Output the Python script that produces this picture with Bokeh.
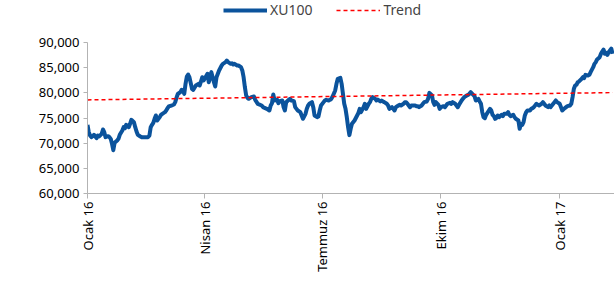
import numpy as np
import pandas as pd
from bokeh.plotting import figure
from bokeh.models import (Legend, LegendItem, FixedTicker, NumeralTickFormatter,
                          Range1d, ColumnDataSource)
from bokeh.embed import file_html
from bokeh.resources import INLINE

# ---- data ----
start_date = "2016-01-01"
days = [0, 1, 2, 3, 4, 5, 7, 8, 9, 11, 12, 13, 14, 16, 17, 18, 19, 20, 21, 23, 24, 25, 27, 28, 29, 30,
        32, 33, 34, 36, 37, 38, 39, 41, 42, 44, 47, 48, 49, 50, 51, 52, 53, 54, 56, 57, 58, 60, 61, 62,
        63, 65, 67, 68, 69, 70, 72, 73, 74, 75, 76, 77, 78, 79, 81, 82, 84, 86, 87, 89, 90, 93, 94, 95,
        96, 98, 99, 100, 102, 104, 105, 107, 108, 109, 111, 112, 113, 114, 116, 117, 119, 120, 121, 122,
        123, 124, 125, 127, 129, 130, 132, 135, 136, 139, 141, 142, 143, 144, 145, 147, 148, 149, 151,
        152, 153, 154, 156, 157, 158, 160, 161, 162, 163, 165, 166, 167, 169, 170, 171, 172, 174, 175,
        176, 178, 179, 180, 181, 183, 184, 185, 187, 188, 189, 190, 192, 193, 194, 196, 197, 198, 199,
        200, 201, 202, 203, 204, 205, 207, 209, 210, 211, 212, 214, 215, 216, 218, 219, 220, 221, 223,
        224, 225, 227, 228, 229, 230, 232, 233, 234, 236, 237, 238, 239, 241, 242, 243, 245, 246, 247,
        248, 250, 251, 252, 254, 255, 256, 257, 259, 260, 261, 263, 264, 265, 267, 268, 269, 270, 272,
        273, 274, 276, 277, 278, 279, 281, 282, 283, 285, 286, 287, 288, 290, 291, 292, 294, 295, 296,
        297, 299, 300, 301, 303, 304, 305, 306, 307, 308, 309, 310, 312, 313, 314, 315, 316, 317, 318,
        319, 321, 322, 323, 325, 326, 327, 328, 330, 331, 332, 334, 335, 336, 337, 338, 339, 340, 341,
        343, 344, 345, 346, 348, 349, 350, 352, 353, 354, 355, 357, 358, 359, 361, 362, 363, 364, 366,
        367, 368, 370, 371, 372, 374, 375, 376, 377, 378, 379, 380, 381, 383, 384, 385, 386, 388, 389,
        390, 392, 393, 394, 395, 397, 398, 399, 400, 401, 402, 403, 404, 406, 407]
xu100 = [73640, 72190, 71530, 71200, 71390, 71660, 71000, 71530, 71330, 71860, 72720, 72190, 71200,
         71390, 71200, 70860, 69870, 68600, 70070, 70530, 70860, 71660, 72520, 73180, 72980, 73640,
         73180, 73840, 74640, 74170, 73180, 72320, 71660, 71330, 71200, 71200, 71200, 71530, 73180,
         73640, 74040, 74840, 75500, 74510, 75170, 75630, 75830, 76160, 76490, 76950, 77290, 77480,
         77680, 78150, 79040, 79770, 80140, 80600, 80470, 79800, 81790, 83250, 83640, 83110, 80800,
         80600, 81460, 81790, 81460, 83110, 82450, 83780, 82120, 83110, 84110, 82120, 81260, 83110,
         84440, 85430, 85760, 86090, 86420, 86090, 85760, 85890, 85630, 85760, 85430, 85430, 85100,
         84440, 83110, 81130, 79470, 79010, 78810, 79140, 79270, 78610, 77820, 77490, 77160, 76830,
         76490, 77490, 77950, 79670, 78480, 78610, 77950, 78350, 78480, 77160, 76490, 78150, 78610,
         78810, 78480, 78350, 77160, 76820, 76490, 76160, 75500, 74840, 75830, 76820, 77490, 77820,
         78150, 77160, 75500, 75170, 75300, 76490, 77490, 78150, 78480, 78610, 78480, 78610, 78810,
         79270, 80470, 81790, 82780, 82980, 81790, 79800, 77820, 76820, 75170, 73180, 71600, 72850,
         73850, 74510, 75500, 76000, 76820, 76160, 77150, 77820, 76820, 77820, 78150, 78810, 79140,
         78810, 78480, 78680, 78280, 78480, 78280, 78150, 77820, 77490, 76820, 77150, 76820, 76490,
         77150, 77490, 77620, 77490, 77820, 78150, 78150, 77820, 77150, 77490, 77490, 77490, 77350,
         77350, 77150, 77490, 77820, 78150, 78280, 78810, 80000, 79470, 78150, 77620, 78150, 77620,
         76820, 77150, 77350, 77150, 77490, 77820, 78020, 77820, 78150, 77820, 77490, 77150, 77620,
         78480, 78810, 79140, 79470, 79600, 79800, 80130, 79600, 79340, 78480, 78810, 78280, 77820,
         76160, 75170, 74970, 75630, 76030, 76820, 76490, 75630, 75370, 74840, 75040, 75500, 75170,
         75630, 75370, 75830, 75830, 76160, 75630, 75370, 75630, 75170, 74840, 74510, 72850, 73840,
         73650, 74180, 75500, 76160, 76490, 76500, 76830, 76960, 77160, 77820, 77620, 77490, 77820,
         78150, 77820, 77490, 77160, 77490, 77160, 77820, 78150, 78480, 78150, 77820, 77160, 76500,
         76960, 77160, 77360, 77490, 77820, 79140, 80800, 81460, 81590, 82120, 82260, 82790, 83120,
         82920, 83580, 83450, 83580, 84110, 85100, 85760, 86100, 86630, 87090, 87750, 88210, 88600,
         87750, 87950, 87550, 88080, 88800, 87750]
trend_values = [78600, 80050]          # trend line at first and last date
y_ticks = [60000, 65000, 70000, 75000, 80000, 85000, 90000]
x_tick_dates = ["2016-01-01", "2016-04-01", "2016-07-01", "2016-10-01", "2017-01-01"]
x_tick_labels = ["Ocak 16", "Nisan 16", "Temmuz 16", "Ekim 16", "Ocak 17"]
series_names = ["XU100", "Trend"]

# ---- layout constants ----
Y_MIN, Y_MAX = 60000, 90000
FIG_W, FIG_H = 614, 285
BORDER_L, BORDER_B = 87, 92
AXIS_TOP_PX = 42            # pixel row of the 90,000 tick; legend lives above it
frame_h = FIG_H - BORDER_B
y_top = Y_MAX + AXIS_TOP_PX * (Y_MAX - Y_MIN) / (frame_h - AXIS_TOP_PX)

# ---- build ----
x_dates = [pd.Timestamp(start_date) + pd.Timedelta(days=d) for d in days]
src = ColumnDataSource(dict(x=x_dates, y=xu100))
trend_src = ColumnDataSource(dict(x=[x_dates[0], x_dates[-1]], y=trend_values))

FONT = "Noto Sans"
AXIS_COLOR = "#b3b3b3"

x_start = pd.Timestamp(start_date).value / 1e6
x_end = (x_dates[-1] + pd.Timedelta(hours=36)).value / 1e6

p = figure(width=FIG_W, height=FIG_H, x_axis_type="datetime", output_backend="svg",
           toolbar_location=None, x_range=Range1d(x_start, x_end),
           y_range=Range1d(Y_MIN, y_top),
           min_border_left=BORDER_L, min_border_right=0, min_border_top=0,
           min_border_bottom=BORDER_B)

r_line = p.line("x", "y", source=src, line_color="#0b539c", line_width=4,
                line_join="round")
r_trend = p.line("x", "y", source=trend_src, line_color="#ff0000", line_width=1.5,
                 line_dash="4 3")

p.xgrid.visible = False
p.ygrid.visible = False
p.outline_line_color = None

tick_ms = [int(pd.Timestamp(d).value // 10**6) for d in x_tick_dates]
xa = p.xaxis[0]
xa.ticker = FixedTicker(ticks=tick_ms)
xa.major_label_overrides = {t: lab for t, lab in zip(tick_ms, x_tick_labels)}
xa.major_label_orientation = np.pi / 2
xa.minor_tick_line_color = None
xa.major_tick_out = 5
xa.major_tick_in = 0
xa.major_label_standoff = 3
xa.axis_line_color = AXIS_COLOR
xa.major_tick_line_color = AXIS_COLOR
xa.major_label_text_font = FONT
xa.major_label_text_font_size = "13px"
xa.major_label_text_color = "#000000"

ya = p.yaxis[0]
ya.ticker = FixedTicker(ticks=y_ticks)
ya.bounds = (Y_MIN, Y_MAX)
ya.formatter = NumeralTickFormatter(format="0,0")
ya.minor_tick_line_color = None
ya.major_tick_out = 4
ya.major_tick_in = 0
ya.major_label_standoff = 4
ya.axis_line_color = AXIS_COLOR
ya.major_tick_line_color = AXIS_COLOR
ya.major_label_text_font = FONT
ya.major_label_text_font_size = "13px"
ya.major_label_text_color = "#000000"

legend = Legend(items=[LegendItem(label=series_names[0], renderers=[r_line]),
                       LegendItem(label=series_names[1], renderers=[r_trend])],
                orientation="horizontal", location=(136, frame_h - 19),
                label_text_font=FONT, label_text_font_size="14px",
                glyph_width=44, glyph_height=16, label_height=16, spacing=24,
                padding=0, margin=0, label_standoff=3,
                border_line_color=None, background_fill_alpha=0)
p.add_layout(legend, "center")

open("out.html", "w").write(file_html(p, INLINE))
